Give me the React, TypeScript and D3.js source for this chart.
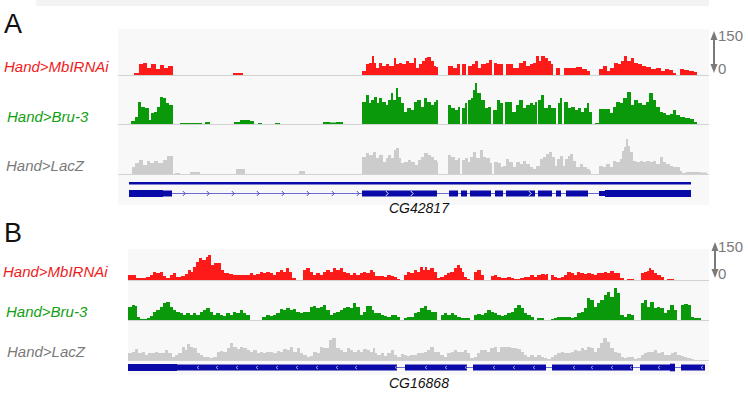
import React from "react";
import * as d3 from "d3";

// ---------- DATA (genomic position, read coverage) ----------
const trackLabels = ["Hand>MbIRNAi", "Hand>Bru-3", "Hand>LacZ"];
const scaleTicks = ["150", "0"];
const geneNames = ["CG42817", "CG16868"];
const panelLetters = ["A", "B"];

const redA: [number, number][] = [[134,7],[139,37],[143,40],[147,23],[151,37],[156,20],[160,33],[164,23],[168,30],[173,0],[233,7],[243,0],
[362,13],[366,37],[369,40],[372,63],[374,40],[376,23],[379,40],[382,30],[386,37],[389,30],[394,57],[396,37],[399,40],[402,37],[406,47],[409,40],[414,57],[416,23],[419,37],[422,47],[425,57],[427,60],[431,47],[434,30],[436,27],[438,0],
[448,30],[453,23],[457,37],[460,0],[462,37],[466,0],[468,30],[472,37],[475,47],[478,23],[481,37],[486,40],[489,50],[492,0],[494,40],[497,37],[503,0],
[506,37],[513,23],[519,40],[523,47],[526,30],[530,37],[533,40],[536,63],[539,47],[541,63],[545,57],[548,47],[551,37],[553,0],[556,23],[560,0],[564,23],[576,27],[582,20],[587,13],[590,0],
[599,20],[603,30],[607,13],[610,23],[614,40],[618,37],[621,47],[624,63],[627,47],[631,57],[634,40],[638,37],[642,30],[646,27],[651,20],[656,23],[661,13],[665,20],[669,17],[673,7],[676,0],[680,20],[684,17],[689,13],[694,10],[697,0]];

const greenA: [number, number][] = [[131,10],[135,23],[138,73],[141,57],[145,53],[149,13],[151,37],[154,40],[157,57],[160,90],[163,87],[166,70],[169,63],[173,0],
[180,3],[202,0],[205,7],[210,0],[234,7],[240,13],[250,10],[254,0],[258,3],[262,0],[275,3],[280,0],[323,7],[330,5],[336,7],[343,0],
[362,73],[366,97],[369,70],[371,80],[374,90],[377,70],[379,87],[382,73],[386,63],[388,80],[391,103],[393,80],[396,120],[398,90],[401,70],[404,40],[407,53],[411,47],[414,73],[417,80],[421,57],[424,87],[427,73],[431,63],[434,73],[436,80],[438,0],
[448,63],[451,53],[455,47],[458,57],[460,0],[462,53],[465,70],[467,0],[468,80],[471,87],[473,113],[475,137],[477,103],[481,80],[485,53],[488,57],[491,0],[493,47],[497,80],[500,70],[503,0],
[505,73],[512,40],[516,63],[519,80],[523,53],[526,63],[530,70],[533,63],[535,73],[537,0],[538,80],[541,97],[544,53],[548,63],[551,53],[556,0],[558,70],[560,87],[562,0],[564,73],[568,53],[571,57],[575,47],[578,53],[581,40],[584,53],[587,70],[589,40],[592,0],[595,3],[599,50],[610,37],[613,57],[616,73],[620,70],[623,87],[627,107],[631,63],[634,80],[638,70],[642,63],[646,73],[649,103],[653,80],[656,57],[660,40],[663,37],[666,30],[670,33],[673,47],[676,30],[680,23],[685,20],[690,17],[694,7],[697,0]];

const grayA: [number, number][] = [[132,23],[135,37],[139,47],[143,30],[147,43],[150,37],[154,43],[158,37],[163,47],[167,60],[173,0],[175,3],[180,0],[190,7],[200,0],[236,17],[245,0],[299,10],[305,0],
[362,57],[366,70],[369,63],[373,73],[376,53],[379,63],[383,40],[386,53],[388,63],[391,53],[394,80],[396,87],[399,53],[401,37],[404,40],[408,47],[411,40],[415,30],[418,47],[421,57],[424,70],[428,63],[431,57],[434,47],[437,40],[438,0],
[448,63],[451,57],[455,47],[458,53],[460,0],[462,47],[465,53],[468,40],[470,57],[473,73],[476,53],[480,80],[483,57],[486,53],[490,37],[492,0],[494,40],[498,37],[501,23],[503,27],[506,50],[509,40],[513,23],[516,40],[520,33],[523,43],[526,33],[530,23],[533,17],[536,27],[540,50],[543,57],[546,67],[549,73],[552,57],[555,27],[557,50],[560,60],[563,27],[565,50],[568,60],[570,67],[573,43],[576,23],[580,33],[583,23],[587,17],[590,10],[591,0],
[599,27],[603,23],[606,33],[610,23],[613,43],[616,40],[620,50],[622,77],[624,90],[626,117],[628,93],[630,73],[633,43],[636,40],[640,43],[643,40],[646,43],[650,40],[653,43],[656,33],[660,57],[663,40],[666,33],[670,27],[673,23],[677,23],[680,10],[682,3],[686,7],[693,7],[700,5],[707,0]];

const redB: [number, number][] = [[128,17],[136,7],[146,10],[150,17],[153,27],[156,23],[160,27],[163,13],[166,7],[170,17],[173,23],[176,10],[181,13],[185,20],[188,33],[191,27],[193,43],[196,60],[199,73],[202,67],[206,77],[208,83],[211,50],[214,57],[218,57],[221,33],[224,23],[229,20],[233,17],[246,17],[250,23],[253,17],[256,20],[260,27],[263,23],[266,27],[270,23],[273,17],[276,27],[280,33],[283,27],[286,40],[289,27],[292,7],[296,0],
[303,33],[306,40],[310,27],[313,17],[316,23],[320,17],[323,27],[326,33],[330,27],[333,40],[336,33],[340,40],[343,27],[346,23],[350,17],[353,23],[356,17],[360,23],[363,27],[366,23],[370,33],[373,27],[375,13],[384,10],[387,17],[391,13],[394,10],[397,3],[400,0],
[404,17],[407,27],[410,23],[414,33],[417,27],[420,43],[423,33],[425,43],[427,33],[430,40],[434,27],[437,7],[440,10],[444,17],[447,23],[450,27],[454,40],[457,50],[460,40],[462,27],[464,10],[467,3],[470,0],[474,27],[477,33],[481,17],[484,0],
[491,13],[494,17],[497,10],[501,7],[507,10],[511,7],[514,3],[520,7],[524,10],[530,17],[534,10],[537,17],[541,20],[545,17],[546,20],[548,0],[551,17],[554,10],[557,7],[561,10],[564,17],[567,27],[571,23],[574,17],[577,27],[580,23],[584,20],[587,23],[591,20],[594,17],[597,23],[604,27],[607,23],[610,30],[614,23],[620,7],[624,0],[627,3],[634,0],
[641,23],[644,27],[647,30],[649,40],[651,33],[654,23],[657,17],[661,10],[664,0],[667,3],[674,0]];

const greenB: [number, number][] = [[128,43],[132,50],[135,47],[137,10],[140,3],[147,7],[150,13],[153,27],[156,33],[160,43],[163,57],[166,60],[170,43],[173,33],[176,27],[180,23],[183,17],[186,23],[190,17],[193,23],[196,17],[200,27],[203,33],[206,40],[210,27],[213,17],[216,23],[220,17],[223,13],[226,23],[230,17],[233,27],[236,23],[240,33],[243,23],[246,17],[250,0],[262,10],[266,17],[270,13],[273,17],[276,23],[280,37],[283,33],[286,40],[290,33],[293,37],[296,27],[300,23],[303,27],[310,43],[313,47],[316,40],[320,43],[323,50],[326,33],[330,17],[333,23],[336,27],[340,33],[343,40],[346,43],[350,40],[353,57],[356,43],[360,17],[363,27],[366,47],[372,33],[374,23],[381,17],[384,13],[387,10],[391,17],[397,10],[400,0],
[404,7],[407,10],[414,23],[417,27],[420,40],[424,47],[427,33],[431,27],[437,0],[441,17],[444,23],[447,17],[451,23],[454,17],[457,10],[461,7],[470,0],[474,17],[477,20],[481,17],[484,23],[487,33],[491,27],[494,23],[497,17],[501,13],[504,17],[507,23],[511,27],[514,40],[517,50],[521,40],[524,23],[527,17],[531,10],[534,0],[537,7],[544,0],[551,3],[554,7],[557,10],[571,7],[574,10],[577,23],[581,27],[584,40],[587,73],[590,67],[594,43],[597,57],[600,67],[604,83],[607,93],[610,77],[614,107],[617,90],[620,17],[624,10],[627,20],[631,17],[634,0],
[641,57],[644,67],[647,43],[650,60],[654,40],[657,43],[660,40],[664,23],[667,33],[670,50],[674,33],[677,0],[681,50],[684,53],[688,50],[691,10],[694,7],[701,0]];

const grayB: [number, number][] = [[128,23],[132,27],[135,37],[138,23],[142,27],[145,17],[148,23],[155,27],[158,23],[165,33],[168,23],[172,10],[175,17],[178,23],[182,43],[185,33],[187,53],[190,43],[193,40],[197,23],[200,17],[203,10],[210,7],[213,10],[217,27],[220,30],[223,27],[227,40],[230,57],[233,43],[237,37],[240,43],[243,40],[247,33],[250,27],[253,33],[257,23],[260,27],[263,23],[266,27],[273,23],[277,30],[280,27],[283,37],[287,33],[290,43],[293,27],[297,40],[300,23],[303,17],[307,10],[310,13],[313,27],[317,23],[320,43],[323,40],[329,67],[332,73],[336,40],[340,33],[343,27],[347,40],[350,33],[353,27],[357,33],[360,27],[363,37],[367,33],[370,27],[373,40],
[375,23],[377,17],[381,23],[384,13],[387,23],[391,33],[394,17],[397,10],[401,20],[404,17],[407,13],[410,17],[417,23],[424,27],[427,33],[430,43],[434,27],[440,17],[444,10],[447,23],[451,27],[454,33],[457,27],[464,33],[467,23],[470,7],[474,10],[477,23],[480,33],[487,27],[490,40],[494,43],[497,27],[500,43],[511,40],[517,37],[521,27],[524,17],[527,10],[530,17],[534,10],[537,17],[541,10],[544,7],[547,3],[551,10],[554,17],[557,23],[561,27],[564,23],[571,27],[574,33],[577,30],[581,40],[584,33],[587,43],[591,40],[594,27],[597,40],[600,57],[603,73],[607,60],[610,40],[614,27],[617,23],[621,10],[624,7],[627,10],[634,3],[637,7],[641,17],[644,23],[647,27],[654,33],[657,23],[661,27],[664,17],[671,23],[674,27],[677,17],[681,13],[684,10],[687,7],[691,3],[694,0]];

// gene models: exon [start, end, halfHeight]
const exonsA: [number, number, number][] = [[129,163,3.5],[163,172,3],[362,437,3],[449,458,3],[461,467,3],[470,491,3],[495,503,3],[506,535,3],[538,552,3],[556,561,3],[566,588,3],[599,605,2.5],[605,691,3.5]];
const transcriptA: [number, number] = [129, 691];
const chevronsA = [184, 208, 233, 258, 283, 308, 333, 358, 387, 412, 530];
const exonsB: [number, number, number][] = [[128,177,3.5],[177,374,3],[374,397,3],[405,467,3],[473,546,3],[552,633,3],[640,675,3],[670,675,3.8],[681,705,3]];
const chevronsB = [198, 217, 237, 257, 277, 297, 317, 337, 356, 396, 426, 446, 466, 494, 514, 534, 574, 592, 612, 631, 659, 702];

const RED = "#ff1a1a";
const GREEN = "#0a990a";
const GRAY = "#cccccc";
const BLUE = "#0a0aa8";
const labelColors = ["#ee1c1c", "#12a012", "#7a7a7a"];

const FONT = "'Liberation Sans', Arial, sans-serif";

export default function App() {
  const W = 748, H = 411;
  const xA = d3.scaleLinear().domain([118, 709]).range([118, 709]);
  const xB = d3.scaleLinear().domain([128, 709]).range([128, 709]);
  const yv = d3.scaleLinear().domain([0, 150]).range([0, 45]);

  const areaPath = (data: [number, number][], x: d3.ScaleLinear<number, number>, base: number) =>
    d3.area<[number, number]>()
      .x(d => x(d[0]))
      .y0(base)
      .y1(d => base - yv(d[1]))
      .curve(d3.curveStepAfter)(data) || "";

  const panels = [
    { x: xA, bg: [118, 29, 709, 205], bases: [75, 124, 174], data: [redA, greenA, grayA],
      labelY: [72, 122, 171], labelX: [4, 7, 6], letterY: 33, scaleY: [31, 73] },
    { x: xB, bg: [128, 249, 709, 375], bases: [280, 320, 360], data: [redB, greenB, grayB],
      labelY: [277, 317, 357], labelX: [3, 6, 7], letterY: 242, scaleY: [242, 278] },
  ];
  const colors = [RED, GREEN, GRAY];

  const arrow = (xc: number, y0: number, y1: number, key: string) => (
    <g key={key} fill="#7a7a7a">
      <line x1={xc} x2={xc} y1={y0 + 6} y2={y1 - 6} stroke="#7a7a7a" strokeWidth={2} />
      <path d={`M${xc},${y0} L${xc - 3.5},${y0 + 9} L${xc + 3.5},${y0 + 9} Z`} />
      <path d={`M${xc},${y1} L${xc - 3.5},${y1 - 9} L${xc + 3.5},${y1 - 9} Z`} />
    </g>
  );

  return (
    <svg width={W} height={H} style={{ position: "absolute", left: 0, top: 0, background: "#fff" }}>
      <rect x={36} y={0} width={673} height={6} fill="#f3f3f3" />
      {panels.map((p, pi) => (
        <g key={pi}>
          <rect x={p.bg[0]} y={p.bg[1]} width={p.bg[2] - p.bg[0]} height={p.bg[3] - p.bg[1]} fill="#f8f8f8" />
          <text x={4} y={p.letterY} fontFamily={FONT} fontSize={27} fill="#111">{panelLetters[pi]}</text>
          {p.data.map((d, ti) => (
            <g key={ti}>
              <line x1={p.bg[0]} x2={709} y1={p.bases[ti] + 0.5} y2={p.bases[ti] + 0.5} stroke="#d2d2d2" strokeWidth={1.2} />
              <path d={areaPath(d, p.x, p.bases[ti])} fill={colors[ti]} />
              <text x={p.labelX[ti]} y={p.labelY[ti]} fontFamily={FONT} fontStyle="italic" fontSize={15} fill={labelColors[ti]}>{trackLabels[ti]}</text>
            </g>
          ))}
          {arrow(pi === 0 ? 714 : 715, p.scaleY[0], p.scaleY[1], "ar" + pi)}
          <text x={718} y={p.scaleY[0] + 10} fontFamily={FONT} fontSize={15} fill="#7a7a7a">{scaleTicks[0]}</text>
          <text x={718} y={p.scaleY[1] + 1} fontFamily={FONT} fontSize={15} fill="#7a7a7a">{scaleTicks[1]}</text>
        </g>
      ))}

      {/* Gene A */}
      <rect x={xA(transcriptA[0])} y={182} width={xA(transcriptA[1]) - xA(transcriptA[0])} height={2.5} fill={BLUE} />
      <line x1={xA(172)} x2={xA(599)} y1={193.5} y2={193.5} stroke="#6a6ad0" strokeWidth={1} />
      {exonsA.map((e, i) => (
        <rect key={i} x={xA(e[0])} y={193.5 - e[2]} width={xA(e[1]) - xA(e[0])} height={e[2] * 2} fill={BLUE} />
      ))}
      {chevronsA.map((c, i) => {
        const inExon = exonsA.some(e => c >= e[0] && c <= e[1]);
        return <path key={i} d={`M${xA(c) - 1.2},${191} L${xA(c) + 1.2},${193.5} L${xA(c) - 1.2},${196}`} fill="none" stroke={inExon ? "#ffffff" : "#3a3ac0"} strokeWidth={0.9} />;
      })}
      <text x={389} y={213} fontFamily={FONT} fontStyle="italic" fontSize={14} fill="#111">{geneNames[0]}</text>

      {/* Gene B */}
      <line x1={xB(128)} x2={xB(705)} y1={367.5} y2={367.5} stroke="#6a6ad0" strokeWidth={1.2} />
      {exonsB.map((e, i) => (
        <rect key={i} x={xB(e[0])} y={367.5 - e[2]} width={xB(e[1]) - xB(e[0])} height={e[2] * 2} fill={BLUE} />
      ))}
      {chevronsB.map((c, i) => (
        <path key={i} d={`M${xB(c) + 1},${366} L${xB(c) - 1},${367.5} L${xB(c) + 1},${369}`} fill="none" stroke="#ffffff" strokeWidth={0.7} opacity={0.8} />
      ))}
      <text x={389} y={388} fontFamily={FONT} fontStyle="italic" fontSize={14} fill="#111">{geneNames[1]}</text>
    </svg>
  );
}
